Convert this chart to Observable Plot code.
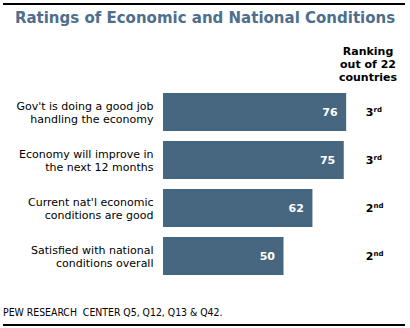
<!DOCTYPE html>
<html>
<head>
<meta charset="utf-8">
<script src="https://cdn.jsdelivr.net/npm/d3@7"></script>
<script src="https://cdn.jsdelivr.net/npm/@observablehq/plot@0.6"></script>
<style>
  body { margin: 0; background: #fff; }
  #wrap { position: relative; width: 410px; height: 328px; overflow: hidden; font-family: "DejaVu Sans", Verdana, sans-serif; }
  .rule { position: absolute; left: 3px; width: 402px; height: 2px; background: #000; }
  #title { position: absolute; top: 9px; left: 0; width: 410px; text-align: center; font-weight: bold; font-size: 15px; color: #4d6f8d; }
  #rankhead { position: absolute; top: 45px; left: 330px; width: 76px; text-align: center; font-weight: bold; font-size: 11px; line-height: 13px; color: #000; }
  #chart { position: absolute; top: 80px; left: 0; }
  #foot { position: absolute; top: 306px; left: 3px; font-size: 10.4px; color: #000; font-family: "DejaVu Sans Condensed", "DejaVu Sans", sans-serif; }
</style>
</head>
<body>
<div id="wrap">
  <div class="rule" style="top:3px"></div>
  <div id="title">Ratings of Economic and National Conditions</div>
  <div id="rankhead">Ranking<br>out of 22<br>countries</div>
  <div id="chart"></div>
  <div id="foot">PEW RESEARCH&nbsp; CENTER Q5, Q12, Q13 &amp; Q42.</div>
  <div class="rule" style="top:324px"></div>
</div>
<script>
const categories = [
  "Gov't is doing a good job\nhandling the economy",
  "Economy will improve in\nthe next 12 months",
  "Current nat'l economic\nconditions are good",
  "Satisfied with national\nconditions overall"
];
const values = [76, 75, 62, 50];
const rankNumbers = ["3", "3", "2", "2"];
const rankSuffixes = ["rd", "rd", "nd", "nd"];

const data = categories.map((c, i) => ({
  category: c, value: values[i], rank: rankNumbers[i], suffix: rankSuffixes[i]
}));

const chart = Plot.plot({
  width: 410,
  height: 197,
  marginTop: 11,
  marginBottom: 0,
  marginLeft: 163,
  marginRight: 6,
  x: { domain: [0, 100], axis: null },
  y: { domain: categories, axis: null, paddingInner: 0.2, paddingOuter: 0 },
  style: { fontFamily: "DejaVu Sans, Verdana, sans-serif", background: "transparent" },
  marks: [
    Plot.barX(data, { x: "value", y: "category", fill: "#46677f" }),
    Plot.text(data, {
      x: "value", y: "category", text: d => String(d.value),
      textAnchor: "end", dx: -9, fill: "#fff", fontWeight: "bold", fontSize: 11
    }),
    Plot.text(data, {
      x: 0, y: "category", text: "category",
      textAnchor: "end", dx: -10, fill: "#000", fontSize: 11, lineHeight: 1.18
    }),
    Plot.text(data, {
      y: "category", frameAnchor: "right", text: "rank",
      textAnchor: "end", dx: -31, fill: "#000", fontWeight: "bold", fontSize: 11
    }),
    Plot.text(data, {
      y: "category", frameAnchor: "right", text: "suffix",
      textAnchor: "start", dx: -31, dy: -3, fill: "#000", fontWeight: "bold", fontSize: 7
    })
  ]
});
document.getElementById("chart").appendChild(chart);
</script>
</body>
</html>
